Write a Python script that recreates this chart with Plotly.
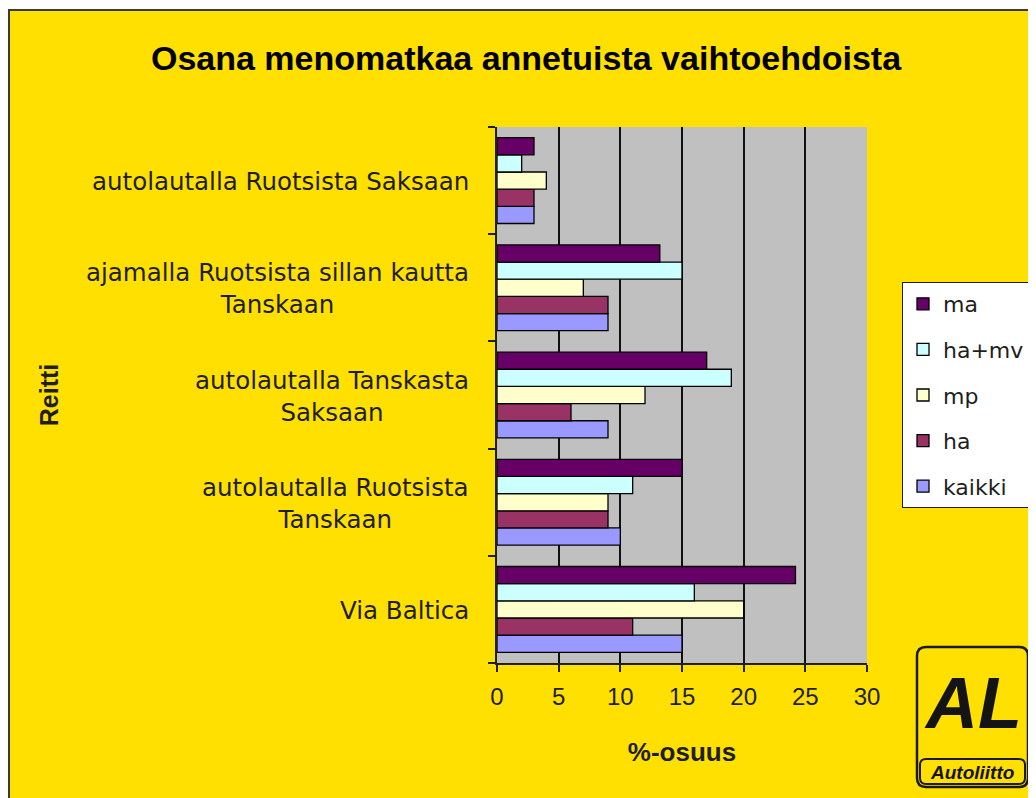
import plotly.graph_objects as go

# ---------------- data ----------------
categories = [
    "Via Baltica",
    "autolautalla Ruotsista Tanskaan",
    "autolautalla Tanskasta Saksaan",
    "ajamalla Ruotsista sillan kautta Tanskaan",
    "autolautalla Ruotsista Saksaan",
]
category_labels = [
    "Via Baltica",
    "autolautalla Ruotsista<br>Tanskaan",
    "autolautalla Tanskasta<br>Saksaan",
    "ajamalla Ruotsista sillan kautta<br>Tanskaan",
    "autolautalla Ruotsista Saksaan",
]
ma = [24.2, 15, 17, 13.2, 3]
ha_mv = [16, 11, 19, 15, 2]
mp = [20, 9, 12, 7, 4]
ha = [11, 9, 6, 9, 3]
kaikki = [15, 10, 9, 9, 3]

x_ticks = [0, 5, 10, 15, 20, 25, 30]
grid_vals = [5, 10, 15, 20, 25]

title_text = "Osana menomatkaa annetuista vaihtoehdoista"
x_title = "%-osuus"
y_title = "Reitti"

# ---------------- style ----------------
YELLOW = "#FFE000"
PLOT_GRAY = "#C0C0C0"
OFF = 8                      # page body margin
W, H = 1036 - OFF, 798 - OFF
# plot area in page pixels
L, R, T, B = 497, 867, 127, 663
Lf, Rf, Tf, Bf = L - OFF, R - OFF, T - OFF, B - OFF


def px(x):
    return (x - L) / (R - L)


def py(y):
    return (B - y) / (B - T)


series = [
    ("kaikki", kaikki, "#9999FF", 5),
    ("ha", ha, "#993366", 4),
    ("mp", mp, "#FFFFCC", 3),
    ("ha+mv", ha_mv, "#CCFFFF", 2),
    ("ma", ma, "#660066", 1),
]

fig = go.Figure()
for name, vals, col, rank in series:
    fig.add_trace(go.Bar(
        y=categories, x=vals, name=name, orientation="h",
        marker=dict(color=col, line=dict(color="black", width=1.3)),
        legendgroup=name, legendrank=rank,
    ))

# invisible helper trace so the overlay grid axis is drawn
fig.add_trace(go.Scatter(x=[0, 30], y=[categories[0], categories[0]], xaxis="x2",
                         mode="markers", marker=dict(opacity=0), showlegend=False,
                         hoverinfo="skip"))

shapes = []
# white strip above frame & frame border
shapes.append(dict(type="rect", xref="paper", yref="paper", x0=px(OFF), x1=px(1036), y0=py(OFF), y1=py(9),
                   fillcolor="white", line=dict(width=0), layer="below"))
shapes.append(dict(type="rect", xref="paper", yref="paper", x0=px(OFF + 1), x1=px(1042), y0=py(10), y1=py(805),
                   fillcolor="rgba(0,0,0,0)", line=dict(color="#3a3a3a", width=2), layer="above"))


def rounded(x0, y0, x1, y1, r):
    return (f"M {px(x0 + r)},{py(y0)} L {px(x1 - r)},{py(y0)} Q {px(x1)},{py(y0)} {px(x1)},{py(y0 + r)} "
            f"L {px(x1)},{py(y1 - r)} Q {px(x1)},{py(y1)} {px(x1 - r)},{py(y1)} "
            f"L {px(x0 + r)},{py(y1)} Q {px(x0)},{py(y1)} {px(x0)},{py(y1 - r)} "
            f"L {px(x0)},{py(y0 + r)} Q {px(x0)},{py(y0)} {px(x0 + r)},{py(y0)} Z")


shapes.append(dict(type="path", xref="paper", yref="paper", path=rounded(917, 647, 1028, 787, 9),
                   fillcolor=YELLOW, line=dict(color="#1a1a1a", width=2.5)))
shapes.append(dict(type="path", xref="paper", yref="paper", path=rounded(920, 759, 1025, 784, 6),
                   fillcolor=YELLOW, line=dict(color="#1a1a1a", width=2)))

annotations = []
for cat, lab in zip(categories, category_labels):
    annotations.append(dict(
        x=0, xref="paper", y=cat, yref="y", text=lab, showarrow=False,
        xanchor="right", yanchor="middle", align="center", xshift=-26, yshift=-1,
        font=dict(family="DejaVu Sans", size=24.5, color="#1e1e1e"),
    ))
annotations.append(dict(x=px(973), y=py(703), xref="paper", yref="paper", text="<b><i>AL</i></b>",
                        showarrow=False, xanchor="center", yanchor="middle",
                        font=dict(family="Liberation Sans", size=72, color="#141414")))
annotations.append(dict(x=px(972), y=py(772), xref="paper", yref="paper", text="<b><i>Autoliitto</i></b>",
                        showarrow=False, xanchor="center", yanchor="middle",
                        font=dict(family="Liberation Sans", size=19, color="#141414")))

fig.update_layout(
    width=W, height=H,
    margin=dict(l=Lf, r=W - Rf, t=Tf, b=H - Bf, autoexpand=False),
    paper_bgcolor=YELLOW,
    plot_bgcolor=PLOT_GRAY,
    barmode="group", bargap=0.2, bargroupgap=0,
    title=dict(text=f"<b>{title_text}</b>", x=(526 - OFF) / W, xanchor="center",
               y=1 - (58 - OFF) / H, yanchor="middle",
               font=dict(family="Liberation Sans", size=34, color="black")),
    xaxis=dict(range=[0, 30], tickvals=x_ticks, showgrid=False, showline=True, linecolor="#202020",
               linewidth=1.5, ticks="outside", ticklen=7, tickcolor="#202020", tickwidth=1.5,
               tickfont=dict(family="Liberation Sans", size=24, color="#1e1e1e"), ticklabelstandoff=4,
               zeroline=False,
               title=dict(text=f"<b>{x_title}</b>", standoff=34,
                          font=dict(family="Liberation Sans", size=26, color="#1e1e1e"))),
    xaxis2=dict(range=[0, 30], overlaying="x", tickvals=grid_vals, showgrid=True, gridcolor="#101010",
                gridwidth=1.6, showticklabels=False, ticks="", showline=False, zeroline=False,
                side="bottom"),
    yaxis=dict(showticklabels=False, showgrid=False, showline=True, linecolor="#202020", linewidth=1.5,
               ticks="outside", tickson="boundaries", ticklen=7, tickcolor="#202020", tickwidth=1.5,
               title=dict(text=f"<b>{y_title}</b>", standoff=430,
                          font=dict(family="Liberation Sans", size=25, color="#1e1e1e"))),
    legend=dict(x=px(902), y=py(282), xanchor="left", yanchor="top", traceorder="grouped",
                tracegroupgap=14, bgcolor="white", bordercolor="#202020", borderwidth=1,
                font=dict(family="DejaVu Sans", size=22, color="#1e1e1e")),
    shapes=shapes,
    annotations=annotations,
    showlegend=True,
)

fig.write_html("out.html")
